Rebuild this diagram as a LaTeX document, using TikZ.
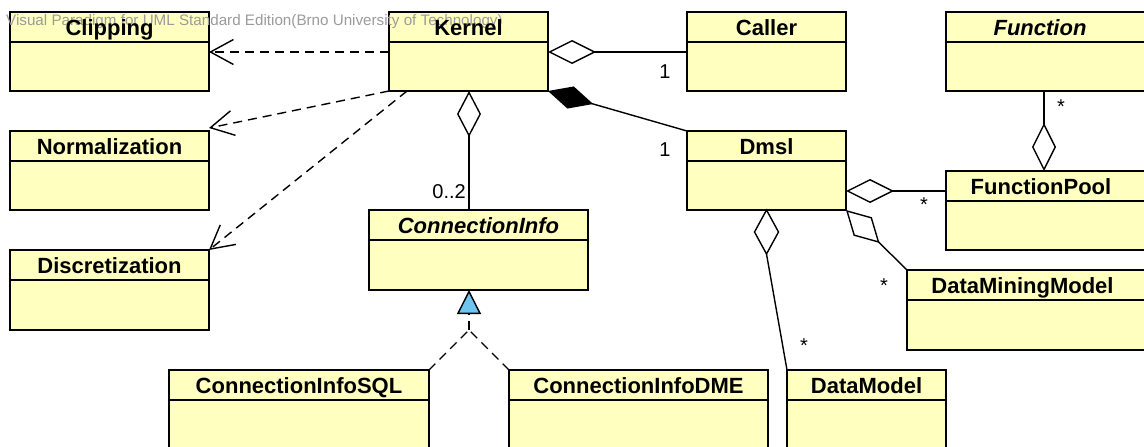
\documentclass[tikz,border=0pt]{standalone}
\usepackage{fontspec}
\setmainfont{Liberation Sans}
\usetikzlibrary{arrows.meta,calc}
\definecolor{classfill}{RGB}{255,255,192}
\definecolor{genblue}{RGB}{110,198,240}
\definecolor{wmgray}{RGB}{155,155,155}
\pgfdeclarelayer{fg}
\pgfsetlayers{main,fg}
\tikzset{
  classbox/.style={draw=black, fill=classfill, line width=2pt, rectangle, inner sep=0pt, outer sep=0pt, anchor=north west},
  divider/.style={line width=2pt},
  titletext/.style={font=\fontsize{22}{24}\selectfont\bfseries, anchor=base, inner sep=0pt},
  ititletext/.style={font=\fontsize{22}{24}\selectfont\bfseries\itshape, anchor=base, inner sep=0pt},
  assoc/.style={line width=1.4pt},
  depline/.style={line width=1.4pt, dash pattern=on 9pt off 6pt},
  mult/.style={font=\fontsize{20}{22}\selectfont, inner sep=0pt},
}
\newcommand\umlbox[7]{%
  \node[classbox, minimum width=#4pt, minimum height=#5pt] (#1) at (#2,#3) {};
  \draw[divider] ([yshift=-30pt]#1.north west) -- ([yshift=-30pt]#1.north east);
  \begin{pgfonlayer}{fg}
    \node[#6] (#1-title) at ([yshift=-23pt]#1.north) {#7};
  \end{pgfonlayer}
}
\begin{document}
\begin{tikzpicture}[x=1pt,y=-1pt]
\useasboundingbox (0,0) rectangle (1144,447);
\fill[white] (0,0) rectangle (1144,447);
\clip (0,0) rectangle (1144,447);

% classes
\umlbox{clip}{10}{12}{199}{79}{titletext}{Clipping}
\umlbox{kernel}{389}{12}{159}{79}{titletext}{Kernel}
\umlbox{caller}{687}{12}{159}{79}{titletext}{Caller}
\umlbox{func}{946}{12}{200}{79}{ititletext, xshift=-6pt}{Function}
\umlbox{norm}{10}{131}{199}{79}{titletext}{Normalization}
\umlbox{dmsl}{687}{131}{159}{79}{titletext}{Dmsl}
\umlbox{fpool}{946}{171}{200}{79}{titletext, xshift=-5pt}{FunctionPool}
\umlbox{cinfo}{369}{210}{219}{80}{ititletext}{ConnectionInfo}
\umlbox{disc}{10}{250}{199}{80}{titletext}{Discretization}
\umlbox{dmm}{907}{270}{239}{80}{titletext, xshift=-4pt}{DataMiningModel}
\umlbox{sql}{169}{370}{260}{95}{titletext}{ConnectionInfoSQL}
\umlbox{dme}{509}{370}{259}{95}{titletext}{ConnectionInfoDME}
\umlbox{dm}{787}{370}{159}{95}{titletext}{DataModel}

% watermark
\node[anchor=base west, font=\fontsize{15.2}{17}\selectfont, text=wmgray, inner sep=0pt] (wm) at (6,25) {Visual Paradigm for UML Standard Edition(Brno University of Technology)};

% Kernel -> Clipping (dependency)
\coordinate (kl) at ([yshift=-40pt]kernel.north west);
\draw[depline, -{Straight Barb[length=23pt,width=25pt]}] (kl) -- (kl -| clip.east);
% Kernel -> Normalization
\draw[depline, -{Straight Barb[length=23pt,width=25pt]}] (kernel.south west) -- ([yshift=3pt]norm.north east);
% Kernel -> Discretization
\coordinate (ks) at ([xshift=18pt]kernel.south west);
\draw[depline, -{Straight Barb[length=23pt,width=25pt]}] (ks) -- (disc.north east);

% Kernel <>- Caller
\coordinate (kc) at ([yshift=-40pt]kernel.north east);
\draw[assoc, {Diamond[open,length=48pt,width=24pt]}-] (kc) -- (kc -| caller.west);
\node[mult] (m1) at (665,72) {1};

% Kernel <>- ConnectionInfo
\coordinate (kb) at ([xshift=80pt]kernel.south west);
\draw[assoc, {Diamond[open,length=46pt,width=24pt]}-] (kb) -- (kb |- cinfo.north);
\node[mult, anchor=east] (m02) at (466,192) {0..2};

% Kernel <#>- Dmsl
\draw[assoc, {Diamond[length=47pt,width=23pt]}-] (kernel.south east) -- (dmsl.north west);
\node[mult] (m2) at (665,150) {1};

% Dmsl <>- FunctionPool
\coordinate (dr) at ([yshift=-60pt]dmsl.north east);
\draw[assoc, {Diamond[open,length=48pt,width=24pt]}-] (dr) -- (dr -| fpool.west);
\node[mult] (s1) at (924,205) {*};

% Function -<> FunctionPool
\coordinate (fb) at ([xshift=98pt]func.south west);
\draw[assoc, -{Diamond[open,length=48pt,width=24pt]}] (fb) -- (fb |- fpool.north);
\node[mult] (s2) at (1061,107) {*};

% Dmsl <>- DataMiningModel
\draw[assoc, {Diamond[open,length=47pt,width=26pt]}-] (dmsl.south east) -- (dmm.north west);
\node[mult] (s3) at (884,286) {*};

% Dmsl <>- DataModel
\coordinate (dd) at (dmsl.south);
\coordinate (ddb) at ([yshift=-44pt]dd);
\draw[assoc, fill=white] (dd) -- ++(12,22) -- (ddb) -- ++(-12,-22) -- cycle;
\draw[assoc] (ddb) -- (dm.north west);
\node[mult] (s4) at (804,346) {*};

% realization: ConnectionInfoSQL / DME -> ConnectionInfo
\coordinate (gapex) at ([xshift=100pt]cinfo.south west);
\coordinate (gj) at ([yshift=-40pt]gapex);
\draw[depline, -{Triangle[length=24pt,width=24pt,fill=genblue]}] (gj) -- (gapex);
\draw[depline] (sql.north east) -- (gj);
\draw[depline] (dme.north west) -- (gj);
\end{tikzpicture}
\end{document}
